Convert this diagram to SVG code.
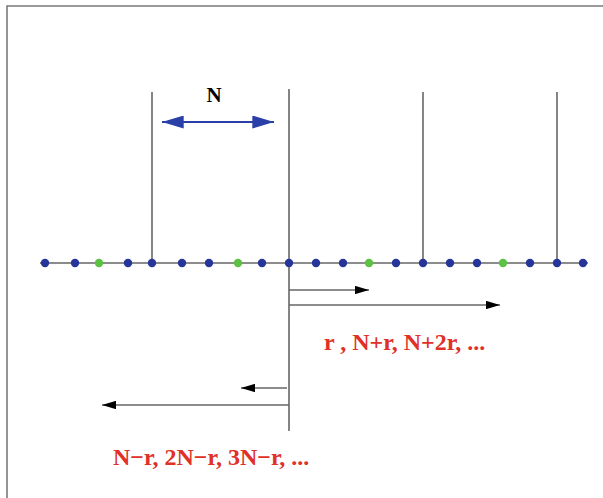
<svg xmlns="http://www.w3.org/2000/svg" width="603" height="498" viewBox="0 0 603 498">
<defs>
<style>
.frame{fill:none;stroke:#7a7a7a;stroke-width:1.6}
.axis{stroke:#666;stroke-width:1.5}
.tick{stroke:#333;stroke-width:1.2}
.arr{stroke:#666;stroke-width:1.3;fill:none}
.b{fill:#26359a}
.g{fill:#5cc144}
.lbl{font-family:"Liberation Serif",serif;font-weight:bold;fill:#e03028;font-size:24px}
</style>
<marker id="ah" viewBox="0 0 10 6" refX="10" refY="3" markerWidth="14" markerHeight="8.4" markerUnits="userSpaceOnUse" orient="auto">
<path d="M0,0 L10,3 L0,6 Z" fill="#000"/>
</marker>
<marker id="bh" viewBox="0 0 10 6" refX="10" refY="3" markerWidth="24" markerHeight="13" markerUnits="userSpaceOnUse" orient="auto-start-reverse">
<path d="M0,0 L10,3 L0,6 Z" fill="#2b3fa8"/>
</marker>
</defs>
<rect width="603" height="498" fill="#fff"/>
<path class="frame" d="M7,510 V6 H610"/>
<g id="connectors">
<line class="axis" x1="40" y1="263" x2="588" y2="263"/>
<line class="tick" x1="152" y1="92" x2="152" y2="263"/>
<line class="tick" x1="289" y1="89" x2="289" y2="431"/>
<line class="tick" x1="423" y1="92" x2="423" y2="263"/>
<line class="tick" x1="557" y1="92" x2="557" y2="263"/>
<line class="arr" x1="289" y1="290" x2="369" y2="290" marker-end="url(#ah)"/>
<line class="arr" x1="289" y1="305" x2="500" y2="305" marker-end="url(#ah)"/>
<line class="arr" x1="287" y1="388" x2="241" y2="388" marker-end="url(#ah)"/>
<line class="arr" x1="289" y1="405" x2="102" y2="405" marker-end="url(#ah)"/>
<line x1="162" y1="122" x2="274" y2="122" stroke="#2b3fa8" stroke-width="2" marker-start="url(#bh)" marker-end="url(#bh)"/>
</g>
<g id="dots">
<circle class="b" cx="45" cy="263" r="4.2"/>
<circle class="b" cx="75" cy="263" r="4.2"/>
<circle class="g" cx="99" cy="263" r="4.2"/>
<circle class="b" cx="128" cy="263" r="4.2"/>
<circle class="b" cx="152" cy="263" r="4.2"/>
<circle class="b" cx="182" cy="263" r="4.2"/>
<circle class="b" cx="209" cy="263" r="4.2"/>
<circle class="g" cx="238" cy="263" r="4.2"/>
<circle class="b" cx="262" cy="263" r="4.2"/>
<circle class="b" cx="289" cy="263" r="4.2"/>
<circle class="b" cx="316" cy="263" r="4.2"/>
<circle class="b" cx="343" cy="263" r="4.2"/>
<circle class="g" cx="369" cy="263" r="4.2"/>
<circle class="b" cx="396" cy="263" r="4.2"/>
<circle class="b" cx="423" cy="263" r="4.2"/>
<circle class="b" cx="450" cy="263" r="4.2"/>
<circle class="b" cx="477" cy="263" r="4.2"/>
<circle class="g" cx="503" cy="263" r="4.2"/>
<circle class="b" cx="530" cy="263" r="4.2"/>
<circle class="b" cx="557" cy="263" r="4.2"/>
<circle class="b" cx="583" cy="263" r="4.2"/>
</g>
<g id="label-N"><text x="214" y="102" text-anchor="middle" font-family="'Liberation Serif',serif" font-weight="bold" font-size="21" fill="#000">N</text></g>
<g id="label-pos"><text class="lbl" x="324" y="350">r , N+r, N+2r, ...</text></g>
<g id="label-neg"><text class="lbl" x="113" y="465">N−r, 2N−r, 3N−r, ...</text></g>
</svg>
